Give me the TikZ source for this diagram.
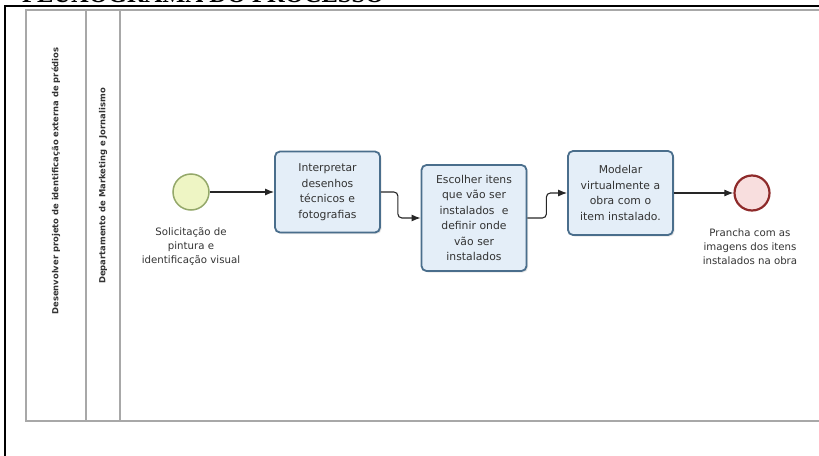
\documentclass[tikz,border=0pt]{standalone}
\usepackage{fontspec}
\setmainfont{DejaVu Sans}
\newfontfamily\titlefont{Liberation Serif}
\usetikzlibrary{arrows.meta,shadows}

\definecolor{taskline}{HTML}{4A6E8C}
\definecolor{taskfill}{HTML}{E4EEF8}
\definecolor{startline}{HTML}{94A86A}
\definecolor{startfill}{HTML}{EEF5C4}
\definecolor{endline}{HTML}{8E2A2A}
\definecolor{endfill}{HTML}{F8DEDE}
\definecolor{laneline}{HTML}{A8A8A8}
\definecolor{labeltext}{HTML}{333333}

\tikzset{
  task/.style={rectangle, rounded corners=5pt, draw=taskline, line width=1.8pt,
    fill=taskfill, minimum width=105pt, text width=100pt, align=center,
    font=\fontsize{10.8}{15.5}\selectfont, text=labeltext, inner xsep=1pt,
    drop shadow={opacity=0.2, shadow xshift=1.5pt, shadow yshift=-1.5pt}},
  startevent/.style={circle, draw=startline, line width=1.5pt, fill=startfill,
    minimum size=36pt, inner sep=0pt},
  endevent/.style={circle, draw=endline, line width=2.2pt, fill=endfill,
    minimum size=35pt, inner sep=0pt},
  evlabel/.style={align=center, font=\fontsize{10.2}{14}\selectfont, text=labeltext},
  lanelabel/.style={rotate=90, font=\bfseries\fontsize{8.4}{10}\selectfont, text=labeltext},
  flow/.style={-{Latex[length=9pt,width=7pt]}, line width=1.1pt, black!85},
  lane/.style={draw=laneline, line width=1.6pt}
}

\begin{document}
\begin{tikzpicture}[x=1pt, y=-1pt]
    \useasboundingbox (0,0) rectangle (819,455);
    \clip (0,0) rectangle (819,455);

    % page frame and heading
    \node[anchor=base west, inner sep=0pt, font=\titlefont\bfseries\fontsize{24.5}{24.5}\selectfont] (title) at (22,2.5) {FLUXOGRAMA DO PROCESSO};
    \draw[line width=2pt] (5,456) -- (5,6) -- (820,6);

    % pool and lane
    \draw[lane] (830,10) -- (26,10) -- (26,421) -- (830,421);
    \draw[lane] (86,10) -- (86,421);
    \draw[lane] (120,10) -- (120,421);
    \node[lanelabel] (pool) at (56,181) {Desenvolver projeto de identificação externa de prédios};
    \node[lanelabel] (dept) at (103,186) {Departamento de Marketing e Jornalismo};

    % events and tasks
    \node[startevent] (start) at (191,192) {};
    \node[evlabel] (startlbl) at (191,247) {Solicitação de\\pintura e\\identificação visual};
    \node[task, minimum height=81pt] (t1) at (327.5,192) {Interpretar\\desenhos\\técnicos e\\fotografias};
    \node[task, minimum height=106pt] (t2) at (474,218) {Escolher itens\\que vão ser\\instalados~ e\\definir onde\\vão ser\\instalados};
    \node[task, minimum height=84pt] (t3) at (620.5,193) {Modelar\\virtualmente a\\obra com o\\item instalado.};
    \node[endevent] (end) at (752,193) {};
    \node[evlabel] (endlbl) at (750,247) {Prancha com as\\imagens dos itens\\instalados na obra};

    \path [flow] (start) edge (t1);
    \draw [flow, rounded corners=4pt] (t1.east) -- ++(17,0) |- (t2.west);
    \draw [flow, rounded corners=4pt] (t2.east) -- ++(19,0) |- (t3.west);
    \path [flow] (t3) edge (end);

\end{tikzpicture}
\end{document}
